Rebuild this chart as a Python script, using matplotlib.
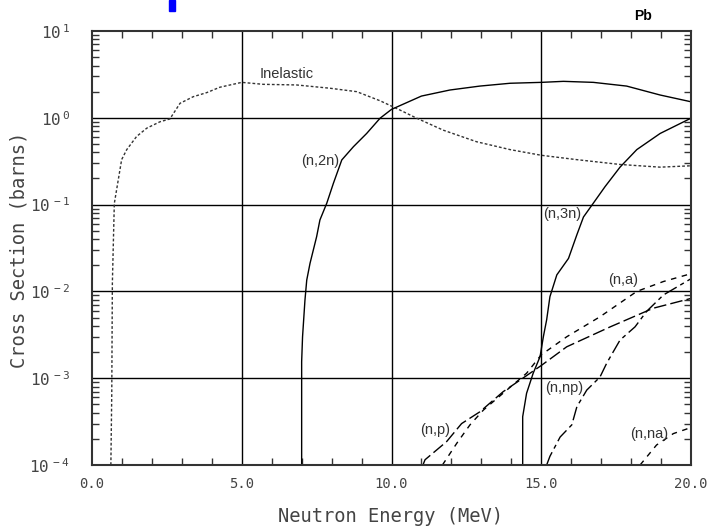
import matplotlib
matplotlib.use("Agg")
import matplotlib.pyplot as plt
from matplotlib.ticker import FixedLocator, LogLocator, FuncFormatter, NullFormatter
from matplotlib.patches import Rectangle

# ---- data ----
inel_e = [0.63, 0.66, 0.68, 0.745, 0.99, 1.16, 1.49, 1.83, 2.27, 2.6, 2.94, 3.38, 3.83, 4.27, 5.0,
          5.72, 6.83, 7.95, 8.84, 9.62, 10.28, 10.84, 11.73, 12.84, 13.96, 15.0, 16.17, 17.63, 18.97, 20.0]
inel_xs = [1e-4, 6.8e-4, 0.0124, 0.103, 0.33, 0.43, 0.61, 0.76, 0.90, 0.97, 1.47, 1.75, 1.95, 2.25, 2.56,
           2.43, 2.39, 2.19, 2.0, 1.57, 1.23, 0.99, 0.72, 0.53, 0.43, 0.37, 0.33, 0.29, 0.27, 0.28]

n2n_e = [7.0, 7.0, 7.03, 7.11, 7.17, 7.28, 7.50, 7.61, 7.84, 8.06, 8.34, 8.73, 9.17, 9.62, 10.0,
         10.4, 11.0, 11.95, 12.95, 13.96, 15.0, 15.74, 16.74, 17.85, 18.97, 20.0]
n2n_xs = [1e-4, 1.55e-3, 3.0e-3, 7.9e-3, 0.0135, 0.0211, 0.0427, 0.0665, 0.104, 0.176, 0.327, 0.465, 0.66,
          0.99, 1.25, 1.44, 1.78, 2.09, 2.32, 2.5, 2.56, 2.63, 2.56, 2.32, 1.83, 1.53]

n3n_e = [14.38, 14.38, 14.51, 14.73, 14.96, 15.07, 15.18, 15.29, 15.52, 15.91, 16.19, 16.41, 16.74,
         17.13, 17.63, 18.19, 18.97, 20.0]
n3n_xs = [1e-4, 3.6e-4, 6.7e-4, 1.14e-3, 1.77e-3, 3.0e-3, 4.7e-3, 8.7e-3, 0.0155, 0.024, 0.045, 0.072,
          0.104, 0.161, 0.27, 0.43, 0.66, 0.99]

np_e = [11.05, 11.12, 11.84, 12.34, 12.95, 13.73, 14.29, 15.0, 15.85, 17.3, 18.74, 20.0]
np_xs = [1.0e-4, 1.15e-4, 1.86e-4, 3.0e-4, 4.1e-4, 7.0e-4, 9.5e-4, 1.4e-3, 2.3e-3, 3.9e-3, 6.4e-3, 8.3e-3]

na_e = [11.7, 12.18, 12.62, 13.07, 13.85, 14.51, 15.0, 15.85, 16.96, 18.19, 19.08, 20.0]
na_xs = [1e-4, 1.78e-4, 2.9e-4, 4.3e-4, 7.3e-4, 1.14e-3, 1.86e-3, 3.0e-3, 5.1e-3, 0.01, 0.013, 0.016]

nnp_e = [15.18, 15.29, 15.63, 16.02, 16.19, 16.52, 16.96, 17.19, 17.63, 18.13, 18.52, 19.08, 20.0]
nnp_xs = [1e-4, 1.26e-4, 2.1e-4, 2.9e-4, 4.7e-4, 7.3e-4, 1.03e-3, 1.5e-3, 2.75e-3, 3.9e-3, 5.9e-3,
          9.1e-3, 0.014]

nna_e = [18.3, 18.85, 19.41, 19.86, 20.0]
nna_xs = [1e-4, 1.7e-4, 2.3e-4, 2.6e-4, 2.8e-4]

x_ticks = [0.0, 5.0, 10.0, 15.0, 20.0]
x_tick_labels = ["0.0", "5.0", "10.0", "15.0", "20.0"]
y_ticks = [1e-4, 1e-3, 1e-2, 1e-1, 1e0, 1e1]
y_exps = ["-4", "-3", "-2", "-1", "0", "1"]

labels = ["Inelastic", "(n,2n)", "(n,3n)", "(n,a)", "(n,np)", "(n,p)", "(n,na)"]
label_e = [6.51, 7.61, 15.69, 17.73, 15.76, 11.45, 18.6]
label_xs = [3.2, 0.316, 0.078, 0.0135, 7.7e-4, 2.5e-4, 2.3e-4]

# ---- figure ----
fig = plt.figure(figsize=(7.07, 5.28), dpi=100)
ax = fig.add_axes([92 / 707, 1 - 465 / 528, 599 / 707, 434 / 528])
ax.set_xlim(0, 20)
ax.set_yscale("log")
ax.set_ylim(1e-4, 1e1)

# grid lines
for xv in x_ticks[1:-1]:
    ax.axvline(xv, color="black", lw=1.0, zorder=1)
for yv in y_ticks[1:-1]:
    ax.axhline(yv, color="black", lw=1.0, zorder=1)

lw = 1.0
ax.plot(inel_e, inel_xs, color="#333333", lw=lw, ls=(0, (2, 1.5)))
ax.plot(n2n_e, n2n_xs, color="black", lw=lw, ls="-")
ax.plot(n3n_e, n3n_xs, color="black", lw=lw, ls="-")
ax.plot(np_e, np_xs, color="black", lw=lw, ls=(0, (9, 3)))
ax.plot(na_e, na_xs, color="black", lw=lw, ls=(0, (4, 4)))
ax.plot(nnp_e, nnp_xs, color="black", lw=lw, ls=(0, (10, 3, 3, 3)))
ax.plot(nna_e, nna_xs, color="black", lw=lw, ls=(0, (4, 4)))

for t, xe, yv in zip(labels, label_e, label_xs):
    ax.text(xe, yv, t, ha="center", va="center", fontsize=10.5, color="#333333",
            family="Liberation Sans")

# ticks
ax.xaxis.set_major_locator(FixedLocator(x_ticks))
ax.xaxis.set_minor_locator(FixedLocator([v for v in range(1, 20) if v % 5 != 0]))
ax.set_xticklabels(x_tick_labels)
ax.yaxis.set_major_locator(FixedLocator(y_ticks))
ax.yaxis.set_minor_locator(LogLocator(base=10, subs=range(2, 10)))
ax.yaxis.set_minor_formatter(NullFormatter())
ax.yaxis.set_major_formatter(FuncFormatter(
    lambda v, p: r"$\mathregular{10^{\,%s}}$" % y_exps[p] if p is not None and p < len(y_exps) else ""))

ax.tick_params(which="major", length=0, pad=10, labelsize=10, labelcolor="#444444")
ax.tick_params(which="minor", direction="in", length=5, width=1, top=True, right=True, color="#333333")
for lab in ax.get_xticklabels():
    lab.set_family("DejaVu Sans Mono")
for lab in ax.get_yticklabels():
    lab.set_family("DejaVu Sans Mono")
    lab.set_fontsize(11.5)
ax.tick_params(axis="x", which="major", pad=9)
ax.tick_params(axis="y", which="major", pad=16)

for s in ax.spines.values():
    s.set_linewidth(1.5)
    s.set_color("#333333")

fig.text(391 / 707, 1 - 516 / 528, "Neutron Energy (MeV)", ha="center", va="center",
         fontsize=13.5, color="#444444", family="DejaVu Sans Mono")
fig.text(19 / 707, 1 - 250 / 528, "Cross Section (barns)", ha="center", va="center", rotation=90,
         fontsize=13.5, color="#444444", family="DejaVu Sans Mono")

fig.text(643 / 707, 1 - 16 / 528, "Pb", ha="center", va="center", fontsize=10, fontweight="bold",
         family="Liberation Sans", color="black")
fig.patches.append(Rectangle((169 / 707, 1 - 11 / 528), 6 / 707, 11 / 528, transform=fig.transFigure,
                             color="#0000ff", figure=fig))

fig.savefig("out.png", dpi=100)
